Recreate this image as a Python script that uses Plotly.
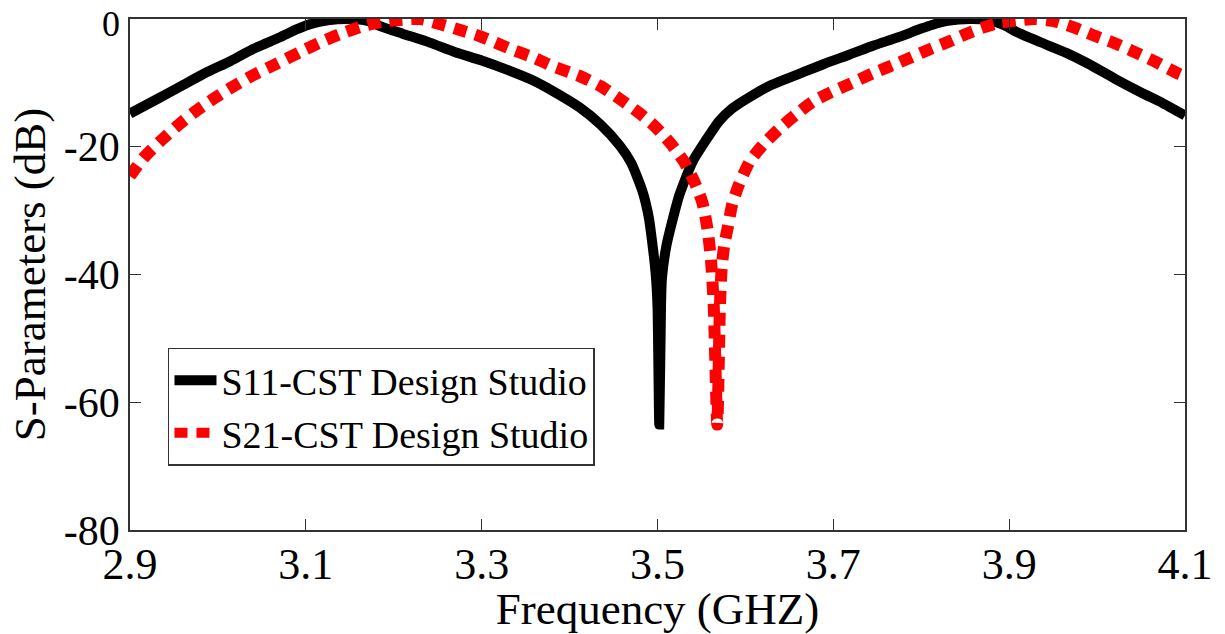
import plotly.graph_objects as go

# S11 (black, solid)
s11_freq = [2.900, 2.930, 2.957, 2.985, 3.014, 3.040, 3.070, 3.090, 3.105, 3.125,
            3.150, 3.170, 3.186, 3.210, 3.241, 3.270, 3.300, 3.330, 3.355, 3.380,
            3.411, 3.435, 3.457, 3.470, 3.483, 3.490, 3.494, 3.498, 3.500, 3.502,
            3.504, 3.505, 3.510, 3.518, 3.525, 3.540, 3.555, 3.570, 3.585, 3.605,
            3.630, 3.661, 3.690, 3.718, 3.745, 3.775, 3.800, 3.813, 3.830, 3.855,
            3.877, 3.895, 3.908, 3.935, 3.965, 3.990, 4.021, 4.050, 4.075, 4.100]
s11_db = [-14.8, -12.6, -10.6, -8.5, -6.6, -4.7, -2.9, -1.6, -0.8, -0.2,
          0.0, -0.3, -1.2, -2.3, -3.7, -5.2, -6.5, -8.0, -9.4, -11.2,
          -13.8, -16.5, -19.8, -22.5, -27.0, -31.0, -35.0, -40.0, -45.0, -63.5,
          -45.0, -40.7, -35.6, -31.0, -27.5, -22.3, -19.0, -16.0, -14.0, -12.2,
          -10.3, -8.6, -7.0, -5.6, -4.2, -2.8, -1.5, -0.9, -0.3, 0.0,
          -0.2, -1.0, -2.0, -3.6, -5.3, -7.0, -9.4, -11.5, -13.2, -15.1]

# S21 (red, dotted)
s21_freq = [2.900, 2.915, 2.934, 2.955, 2.976, 2.995, 3.017, 3.040, 3.067, 3.093,
            3.119, 3.140, 3.165, 3.188, 3.210, 3.230, 3.250, 3.270, 3.298, 3.335,
            3.360, 3.381, 3.411, 3.435, 3.457, 3.480, 3.497, 3.515, 3.530, 3.542,
            3.551, 3.557, 3.561, 3.564, 3.568, 3.571, 3.573, 3.576, 3.580, 3.585,
            3.593, 3.605, 3.620, 3.639, 3.657, 3.676, 3.697, 3.718, 3.745, 3.775,
            3.805, 3.832, 3.850, 3.869, 3.889, 3.910, 3.930, 3.953, 3.975, 3.995,
            4.020, 4.040, 4.065, 4.093, 4.100]
s21_db = [-24.6, -21.8, -19.2, -16.6, -14.3, -12.5, -10.6, -8.8, -7.0, -5.2,
          -3.5, -2.3, -1.1, -0.4, -0.1, 0.0, -0.7, -1.5, -2.7, -4.8,
          -6.1, -7.4, -8.9, -10.5, -12.5, -14.8, -16.8, -19.5, -22.3, -25.5,
          -28.7, -33.0, -38.0, -45.0, -63.5, -45.0, -39.0, -35.3, -32.6, -29.0,
          -25.8, -22.3, -19.7, -17.1, -15.0, -13.0, -11.5, -10.2, -8.5, -6.8,
          -5.0, -3.5, -2.4, -1.4, -0.6, -0.2, 0.0, -0.4, -1.4, -2.5,
          -3.8, -5.0, -6.6, -8.6, -9.0]

x_ticks = [2.9, 3.1, 3.3, 3.5, 3.7, 3.9, 4.1]
x_labels = ["2.9", "3.1", "3.3", "3.5", "3.7", "3.9", "4.1"]
y_ticks = [-80, -60, -40, -20]
y_labels = ["-80", "-60", "-40", "-20"]
y_top_label = "0"

FONT = "Times New Roman, Liberation Serif, serif"

fig = go.Figure()
fig.add_trace(go.Scatter(x=s11_freq, y=s11_db, mode="lines",
                         name="S11-CST Design Studio",
                         line=dict(color="black", width=10, shape="spline", smoothing=0.6)))
fig.add_trace(go.Scatter(x=s21_freq, y=s21_db, mode="lines",
                         name="S21-CST Design Studio",
                         line=dict(color="#ff0000", width=12, dash="13px,9px",
                                   shape="spline", smoothing=0.6)))

fig.update_layout(
    width=1225, height=634,
    margin=dict(l=130, r=36, t=19, b=97),
    paper_bgcolor="white", plot_bgcolor="white",
    font=dict(family=FONT, color="black"),
    showlegend=True,
    legend=dict(x=0.036, y=0.357, xanchor="left", yanchor="top",
                bgcolor="white", bordercolor="#333", borderwidth=1.5,
                font=dict(family=FONT, size=38, color="black"),
                itemwidth=42, tracegroupgap=0),
    annotations=[dict(text=y_top_label, xref="paper", yref="y", x=0, y=0,
                      xanchor="right", yanchor="middle", xshift=-8, yshift=-5,
                      showarrow=False, font=dict(family=FONT, size=36, color="black"))],
)
fig.update_xaxes(range=[2.9, 4.1], tickvals=x_ticks, ticktext=x_labels,
                 ticks="inside", ticklen=11, tickwidth=1, tickcolor="#333",
                 showline=True, linecolor="#333", linewidth=1.5, mirror="ticks",
                 showgrid=False, zeroline=False, ticklabelstandoff=-6,
                 tickfont=dict(family=FONT, size=44),
                 title=dict(text="Frequency (GHZ)", font=dict(family=FONT, size=45),
                            standoff=2))
fig.update_yaxes(range=[-80, 0], tickvals=y_ticks, ticktext=y_labels,
                 ticks="inside", ticklen=11, tickwidth=1, tickcolor="#333",
                 showline=True, linecolor="#333", linewidth=1.5, mirror="ticks",
                 showgrid=False, zeroline=False,
                 tickfont=dict(family=FONT, size=42),
                 title=dict(text="S-Parameters (dB)", font=dict(family=FONT, size=45),
                            standoff=4))

fig.write_html("out.html")
